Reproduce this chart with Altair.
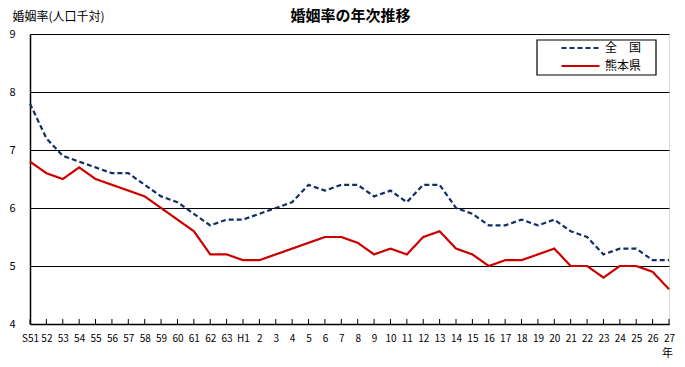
import altair as alt
import pandas as pd

years = ["S51", "52", "53", "54", "55", "56", "57", "58", "59", "60", "61", "62", "63",
         "H1", "2", "3", "4", "5", "6", "7", "8", "9", "10", "11", "12", "13", "14", "15",
         "16", "17", "18", "19", "20", "21", "22", "23", "24", "25", "26", "27"]
# unique keys for categories (Showa 52.. vs Heisei 2..)
keys = [f"S{n}" for n in range(51, 64)] + [f"H{n}" for n in range(1, 28)]

national = [7.8, 7.2, 6.9, 6.8, 6.7, 6.6, 6.6, 6.4, 6.2, 6.1, 5.9, 5.7, 5.8,
            5.8, 5.9, 6.0, 6.1, 6.4, 6.3, 6.4, 6.4, 6.2, 6.3, 6.1, 6.4, 6.4, 6.0, 5.9,
            5.7, 5.7, 5.8, 5.7, 5.8, 5.6, 5.5, 5.2, 5.3, 5.3, 5.1, 5.1]
kumamoto = [6.8, 6.6, 6.5, 6.7, 6.5, 6.4, 6.3, 6.2, 6.0, 5.8, 5.6, 5.2, 5.2,
            5.1, 5.1, 5.2, 5.3, 5.4, 5.5, 5.5, 5.4, 5.2, 5.3, 5.2, 5.5, 5.6, 5.3, 5.2,
            5.0, 5.1, 5.1, 5.2, 5.3, 5.0, 5.0, 4.8, 5.0, 5.0, 4.9, 4.6]
series_names = ["全　国", "熊本県"]
y_ticks = [4, 5, 6, 7, 8, 9]

label_map = dict(zip(keys, years))
label_expr = "{" + ",".join(f"'{k}':'{v}'" for k, v in label_map.items()) + "}[datum.value]"

rows = []
for k, a, b in zip(keys, national, kumamoto):
    rows.append({"key": k, "series": series_names[0], "value": a})
    rows.append({"key": k, "series": series_names[1], "value": b})
df = pd.DataFrame(rows)
tick_df = pd.DataFrame({"key": keys})

W, H = 639, 290
FONT = "Noto Sans CJK JP"

xenc = alt.X("key:N", sort=keys, scale=alt.Scale(type="point", padding=0),
             title="年",
             axis=alt.Axis(labelAngle=0, ticks=False, labelPadding=9,
                           labelExpr=label_expr, labelFontSize=10, labelColor="black",
                           domainColor="black", domainWidth=1.5, grid=False,
                           labelFont=FONT, labelOverlap=False,
                           titleFont=FONT, titleFontSize=11, titleFontWeight="normal",
                           titleColor="black", titleAngle=0, titleX=W - 2, titleY=29,
                           titleAlign="center", titleBaseline="middle"))

lines = alt.Chart(df).mark_line(strokeWidth=2.2).encode(
    x=xenc,
    y=alt.Y("value:Q", scale=alt.Scale(domain=[4, 9], nice=False, zero=False),
            title="婚姻率(人口千対)",
            axis=alt.Axis(values=y_ticks, ticks=False, labelPadding=15,
                          labelFontSize=11, labelColor="black", labelFont=FONT,
                          grid=True, gridColor="black", gridWidth=1.2,
                          domainColor="black", domainWidth=1.5,
                          titleFont=FONT, titleFontSize=12, titleFontWeight="normal",
                          titleColor="black", titleAngle=0, titleX=-18, titleY=-18,
                          titleAlign="left", titleBaseline="middle")),
    color=alt.Color("series:N", sort=series_names,
                    scale=alt.Scale(domain=series_names, range=["#132f66", "#cc0000"]),
                    legend=alt.Legend(title=None, orient="none", legendX=530, legendY=7,
                                      padding=0, symbolType="stroke", symbolSize=1444,
                                      symbolStrokeWidth=2.2, labelFontSize=12,
                                      labelFont=FONT, rowPadding=4, symbolOffset=0,
                                      labelOffset=4, clipHeight=14,
                                      labelColor="black")),
    strokeDash=alt.StrokeDash("series:N", sort=series_names,
                              scale=alt.Scale(domain=series_names, range=[[5, 3], [1, 0]]),
                              legend=None),
)

legend_box = alt.Chart(pd.DataFrame({"b": [1]})).mark_rect(
    fill="white", stroke="black", strokeWidth=1.2
).encode(x=alt.value(507), x2=alt.value(626), y=alt.value(6), y2=alt.value(41))

ticks = alt.Chart(tick_df).mark_rule(color="black", strokeWidth=1).encode(
    x=alt.X("key:N", sort=keys),
    y=alt.value(H - 5),
    y2=alt.value(H),
)

title = alt.Chart(pd.DataFrame({"t": ["婚姻率の年次推移"]})).mark_text(
    font=FONT, fontSize=15, fontWeight="bold", align="center", baseline="middle", color="black"
).encode(text="t:N", x=alt.value(W / 2 + 1), y=alt.value(-18))

chart = alt.layer(legend_box, lines, ticks, title).properties(
    width=W, height=H,
    autosize=alt.AutoSizeParams(type="none"),
    padding={"left": 22, "top": 26, "right": 8, "bottom": 35},
).configure_view(stroke="black", strokeWidth=1.5).configure(background="white")

chart.save("out.html", embed_options={"renderer": "svg", "actions": False})
